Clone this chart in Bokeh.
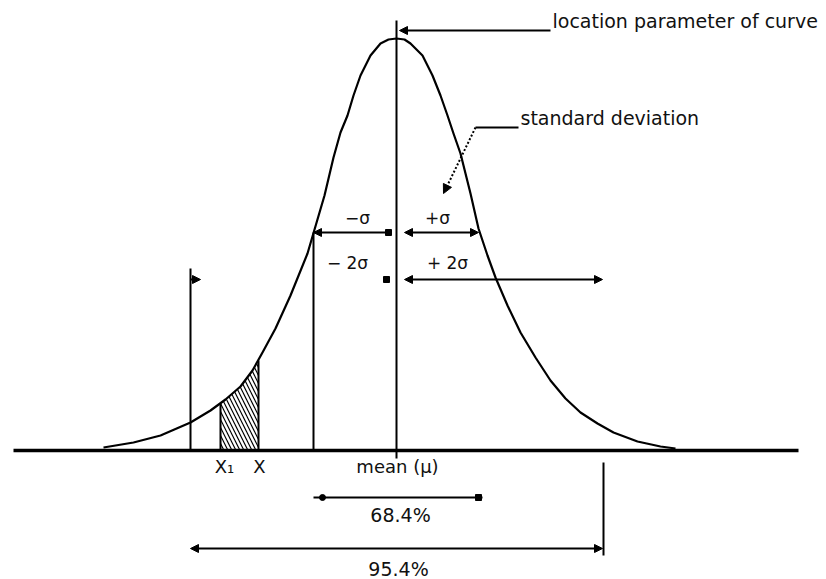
from bokeh.plotting import figure
from bokeh.models import Range1d, Arrow, NormalHead
from bokeh.core.properties import value
from bokeh.embed import file_html
from bokeh.resources import INLINE

# ---- data: positions (page-pixel coordinates) ----
curve_x = [103, 133, 160, 190, 210, 225, 240, 252, 262, 275, 290, 307, 324, 333, 340, 347, 353, 360, 370, 380, 388,
           396, 404, 410, 422, 432, 440, 447, 453, 460, 470, 478, 487, 495, 507, 520, 535, 550, 565, 580, 597,
           613, 637, 660, 675]
curve_y = [447, 442, 435, 422, 410, 399, 386, 370, 352, 328, 295, 253, 195, 157, 132, 115, 95, 75, 55, 43, 39,
           38, 39, 43, 55, 75, 95, 115, 133, 153, 193, 228, 255, 277, 305, 332, 357, 380, 398, 412, 423,
           432, 441, 446, 448]

shade_x = [220, 225, 240, 252, 258]
shade_top = [403, 399, 386, 370, 360]
shade_bottom = [450, 450, 450, 450, 450]

base_x = [13, 798]
base_y = [450, 450]

vline_x = [190, 220, 258, 313, 396, 603]
vline_top = [268, 403, 360, 232, 20, 462]
vline_bottom = [450, 450, 450, 450, 458, 555]

# dimension arrows: y, x_start, x_end, head at start?, head at end?
dim_y = [232, 232, 279, 548, 30, 279]
dim_x0 = [390, 404, 404, 190, 550, 190]
dim_x1 = [313, 478, 602, 602, 399, 200]
dim_start_head = [False, True, True, True, False, False]
dim_end_head = [True, True, True, True, True, True]

plain_seg_x0 = [313, 475]
plain_seg_x1 = [482, 518]
plain_seg_y = [497, 127]

sq_x = [388, 386, 478]
sq_y = [232, 279, 497]
dot_x = [322]
dot_y = [497]

leader_x0, leader_y0 = [475], [127]
leader_x1, leader_y1 = [443], [193]

label_text = ["location parameter of curve", "standard deviation", "\u2212\u03c3", "+\u03c3",
              "\u2212 2\u03c3", "+ 2\u03c3", "X\u2081", "X", "mean (\u03bc)", "68.4%", "95.4%"]
label_x = [552, 520, 357, 437, 347, 447, 224, 259, 397, 400, 398]
label_y = [20, 117, 217, 217, 262, 262, 466, 466, 466, 514, 568]
label_size = ["19px", "19px", "17px", "17px", "17px", "17px", "18px", "18px", "18px", "19px", "19px"]
label_align = ["left", "left", "center", "center", "center", "center", "center", "center", "center", "center", "center"]

W, H = 826, 579
p = figure(width=W, height=H, x_range=Range1d(0, W), y_range=Range1d(H, 0),
           x_axis_location=None, y_axis_location=None, toolbar_location=None,
           output_backend="svg", min_border=0)
p.grid.visible = False
p.outline_line_color = None
p.background_fill_color = "white"
p.border_fill_color = "white"

# hatched area under the curve between X1 and X
p.varea(x=shade_x, y1=shade_top, y2=shade_bottom, fill_color=None, fill_alpha=0,
        hatch_pattern="\\", hatch_color="black", hatch_weight=1.2, hatch_scale=8)

# baseline
p.line(base_x, base_y, line_color="black", line_width=3.5)

# vertical reference lines
p.segment(x0=vline_x, y0=vline_top, x1=vline_x, y1=vline_bottom, line_color="black", line_width=2)

# bell curve
p.line(curve_x, curve_y, line_color="black", line_width=2.2, line_join="round")

# dimension arrows
for y, x0, x1, sh, eh in zip(dim_y, dim_x0, dim_x1, dim_start_head, dim_end_head):
    kw = {}
    if sh:
        kw["start"] = NormalHead(size=8, fill_color="black", line_color="black", line_width=1)
    kw["end"] = NormalHead(size=8, fill_color="black", line_color="black", line_width=1) if eh else None
    p.add_layout(Arrow(x_start=x0, y_start=y, x_end=x1, y_end=y, line_color="black", line_width=2, **kw))

p.segment(x0=plain_seg_x0, y0=plain_seg_y, x1=plain_seg_x1, y1=plain_seg_y, line_color="black", line_width=2)
p.scatter(sq_x, sq_y, marker="square", size=6, fill_color="black", line_color="black")
p.scatter(dot_x, dot_y, marker="circle", size=6, fill_color="black", line_color="black")

# dotted leader to the standard deviation
for x0, y0, x1, y1 in zip(leader_x0, leader_y0, leader_x1, leader_y1):
    p.add_layout(Arrow(x_start=x0, y_start=y0, x_end=x1, y_end=y1, line_color="black", line_width=2,
                       line_dash="2 2",
                       end=NormalHead(size=9, fill_color="black", line_color="black", line_width=1)))

# labels
for t, x, y, s, a in zip(label_text, label_x, label_y, label_size, label_align):
    p.text(x=[x], y=[y], text=[t], text_font=value("DejaVu Sans"), text_font_size=s,
           text_align=a, text_baseline="middle", text_color="#111111")

open("out.html", "w").write(file_html(p, INLINE))
